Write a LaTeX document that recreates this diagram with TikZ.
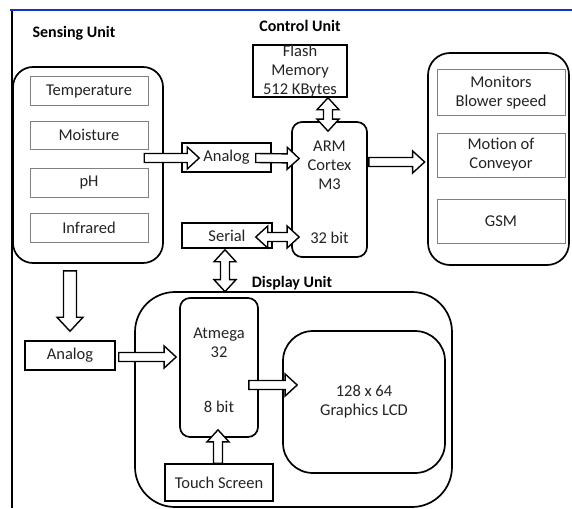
\documentclass[tikz,border=0pt]{standalone}
\usepackage{fontspec}
\setmainfont{Carlito}
\usetikzlibrary{calc}

\definecolor{framebl}{RGB}{20,50,200}
\definecolor{innergr}{RGB}{128,128,128}
\definecolor{txt}{RGB}{35,35,35}

\tikzset{
  % dimensions of the hollow block arrows
  blkshaft/.store in=\blkshaft,
  blkhead/.store in=\blkhead,
  blklen/.store in=\blklen,
  blkshaft=4.5pt, blkhead=11pt, blklen=12pt,
  % single-headed hollow arrow from start to target
  blk/.style={draw=black, fill=white, line width=1.4pt, line join=miter,
    to path={
      ($(\tikztostart)!\blkshaft!-90:(\tikztotarget)$)
      -- ($($(\tikztotarget)!\blklen!(\tikztostart)$)!\blkshaft!-90:(\tikztotarget)$)
      -- ($($(\tikztotarget)!\blklen!(\tikztostart)$)!\blkhead!-90:(\tikztotarget)$)
      -- (\tikztotarget)
      -- ($($(\tikztotarget)!\blklen!(\tikztostart)$)!\blkhead!90:(\tikztotarget)$)
      -- ($($(\tikztotarget)!\blklen!(\tikztostart)$)!\blkshaft!90:(\tikztotarget)$)
      -- ($(\tikztostart)!\blkshaft!90:(\tikztotarget)$)
      -- cycle}},
  % double-headed hollow arrow
  dblk/.style={draw=black, fill=white, line width=1.4pt, line join=miter,
    to path={
      (\tikztostart)
      -- ($($(\tikztostart)!\blklen!(\tikztotarget)$)!\blkhead!-90:(\tikztotarget)$)
      -- ($($(\tikztostart)!\blklen!(\tikztotarget)$)!\blkshaft!-90:(\tikztotarget)$)
      -- ($($(\tikztotarget)!\blklen!(\tikztostart)$)!\blkshaft!-90:(\tikztotarget)$)
      -- ($($(\tikztotarget)!\blklen!(\tikztostart)$)!\blkhead!-90:(\tikztotarget)$)
      -- (\tikztotarget)
      -- ($($(\tikztotarget)!\blklen!(\tikztostart)$)!\blkhead!90:(\tikztotarget)$)
      -- ($($(\tikztotarget)!\blklen!(\tikztostart)$)!\blkshaft!90:(\tikztotarget)$)
      -- ($($(\tikztostart)!\blklen!(\tikztotarget)$)!\blkshaft!90:(\tikztotarget)$)
      -- ($($(\tikztostart)!\blklen!(\tikztotarget)$)!\blkhead!90:(\tikztotarget)$)
      -- cycle}},
  unit/.style={draw=black, line width=1.7pt, inner sep=0pt},
  plainbox/.style={draw=black, line width=1.5pt, inner sep=0pt, text=txt,
    font=\fontsize{16.5}{19}\selectfont, align=center},
  graybox/.style={draw=innergr, line width=1pt, inner sep=0pt, text=txt,
    font=\fontsize{16.5}{19}\selectfont, align=center},
  lbl/.style={text=txt, font=\fontsize{16.5}{19}\selectfont, align=center, inner sep=0pt},
  title/.style={text=black, font=\bfseries\fontsize{16}{18}\selectfont, inner sep=0pt},
}

\begin{document}
\begin{tikzpicture}[x=1pt, y=-1pt]
\useasboundingbox (0,0) rectangle (572,508);

% page frame
\draw[framebl, line width=2pt] (10,10) -- (572,10);
\draw[black, line width=1.2pt] (12,11) -- (12,508);

% headings
\node[title] (tsense) at (74,33) {Sensing Unit};
\node[title] (tctrl) at (300,26) {Control Unit};
\node[title] (tdisp) at (292,283) {Display Unit};

% sensing unit
\node[unit, rounded corners=20pt, minimum width=150pt, minimum height=196pt] (sens) at (88,165) {};
\node[graybox, minimum width=118pt, minimum height=29pt] (temp) at (89,91.5) {Temperature};
\node[graybox, minimum width=118pt, minimum height=28pt] (moist) at (89,135) {Moisture};
\node[graybox, minimum width=118pt, minimum height=29pt] (ph) at (89,182.5) {pH};
\node[graybox, minimum width=118pt, minimum height=29pt] (infra) at (89,227.5) {Infrared};

% control unit
\node[plainbox, minimum width=89pt, minimum height=29pt] (analogA) at (226.5,157.5) {Analog};
\node[plainbox, minimum width=90pt, minimum height=25pt] (serial) at (227,235.5) {Serial};
\node[plainbox, minimum width=94pt, minimum height=52pt] (flash) at (300,71) {};
\node[lbl] (flashtxt) at (300,71.5) {Flash\\Memory\\512 KBytes};
\node[unit, rounded corners=10pt, minimum width=75pt, minimum height=135pt] (arm) at (329.5,189.5) {};
\node[lbl] (armtxt) at (329.5,165) {ARM\\Cortex\\M3};
\node[lbl] (armbit) at (329.5,238) {32 bit};

% outputs
\node[unit, rounded corners=22pt, minimum width=141pt, minimum height=212pt] (outs) at (498.5,159) {};
\node[graybox, minimum width=128pt, minimum height=45pt] (blower) at (501,92.5) {Monitors\\Blower speed};
\node[graybox, minimum width=128pt, minimum height=44pt] (conv) at (501,155) {Motion of\\Conveyor};
\node[graybox, minimum width=128pt, minimum height=44pt] (gsm) at (501,221) {GSM};

% display unit
\node[unit, rounded corners=40pt, minimum width=317pt, minimum height=215pt] (disp) at (293.5,399.5) {};
\node[unit, rounded corners=10pt, minimum width=78pt, minimum height=139pt] (atm) at (219,367.5) {};
\node[lbl] (atmtxt) at (219,342.5) {Atmega\\32};
\node[lbl] (atmbit) at (219,407) {8 bit};
\node[plainbox, minimum width=90pt, minimum height=29pt] (analogB) at (70,355.5) {Analog};
\node[unit, rounded corners=30pt, minimum width=162pt, minimum height=142pt, lbl] (lcd) at (364,402) {128 x 64\\Graphics LCD};
\node[plainbox, minimum width=108pt, minimum height=37pt] (touch) at (219,482.5) {Touch Screen};

% arrow end points
\coordinate (a1s) at ($(analogA.west)+(-37,0.5)$);
\coordinate (a1e) at ($(analogA.west)+(18,0.5)$);
\coordinate (a2s) at ($(analogA.east)+(-16,0.5)$);
\coordinate (a2e) at ($(arm.west)+(8,-31)$);
\coordinate (fs) at ($(flash.south)+(28,0)$);
\coordinate (fe) at ($(arm.north)+(-1.5,10)$);
\coordinate (ss) at ($(serial.east)+(-17,1.5)$);
\coordinate (se) at ($(arm.west)+(8,47.5)$);
\coordinate (os) at ($(arm.east)+(1,-27.5)$);
\coordinate (oe) at ($(outs.west)+(-2.5,3)$);
\coordinate (ds) at ($(serial.south)+(-2,1)$);
\coordinate (de) at ($(disp.north)+(-68.5,0.5)$);
\coordinate (vs) at ($(sens.south)+(-18,7)$);
\coordinate (ve) at ($(analogB.north)+(0,-9)$);
\coordinate (bs) at ($(analogB.east)+(3,1.5)$);
\coordinate (be) at ($(atm.west)+(-3,-10.5)$);
\coordinate (ls) at ($(atm.east)+(-10,17.5)$);
\coordinate (le) at ($(lcd.west)+(15,-17)$);
\coordinate (ts) at ($(touch.north)+(-1,0)$);
\coordinate (te) at ($(atm.south)+(-1,-8)$);

% hollow arrows
\draw[blk] (a1s) to (a1e);
\draw[blk] (a2s) to (a2e);
\draw[dblk] (fs) to (fe);
\draw[dblk] (ss) to (se);
\draw[blk] (os) to (oe);
\draw[dblk] (ds) to (de);
\draw[blk, blkshaft=6.5pt, blkhead=13pt, blklen=14pt] (vs) to (ve);
\draw[blk] (bs) to (be);
\draw[blk] (ls) to (le);
\draw[blk] (ts) to (te);
\end{tikzpicture}
\end{document}
